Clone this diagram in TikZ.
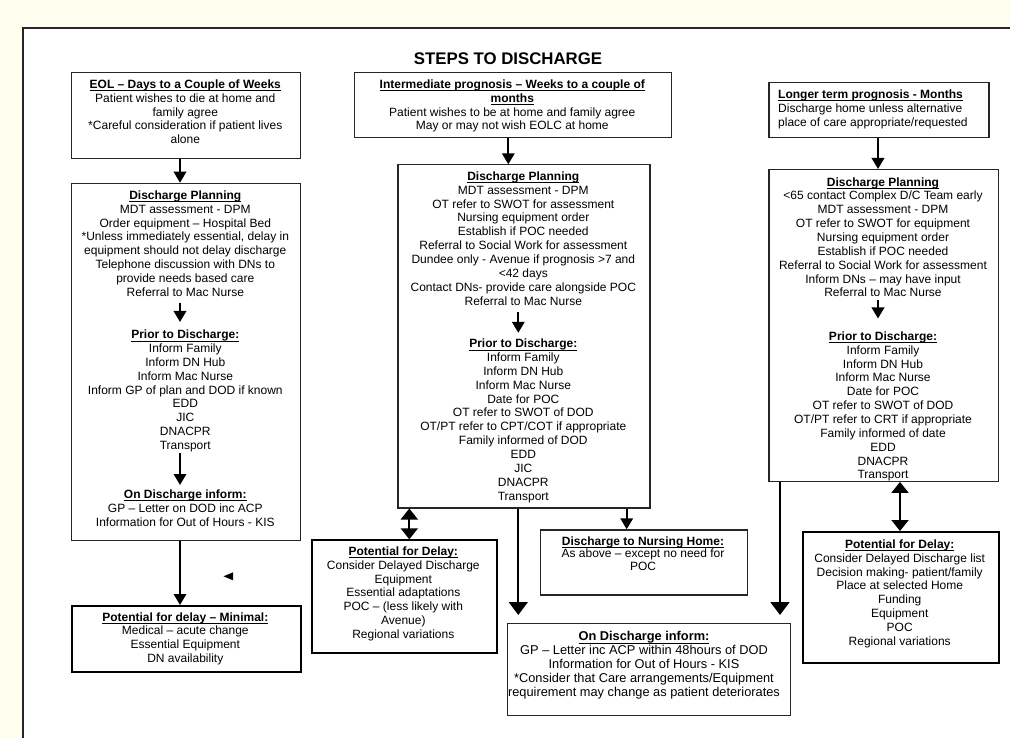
\documentclass[tikz,border=0pt]{standalone}
\usepackage{fontspec}
\setmainfont{Liberation Sans}
\usetikzlibrary{arrows.meta}
\newsavebox{\hdrbox}
\newcommand{\hdr}[1]{\sbox{\hdrbox}{\textbf{#1}}\rlap{\rule[-2.9pt]{\wd\hdrbox}{1pt}}\usebox{\hdrbox}}
\definecolor{cream}{RGB}{255,253,238}
\begin{document}
\begin{tikzpicture}[x=1pt,y=-1pt,
 box/.style={draw=black!85, line width=1.2pt, inner sep=0pt, anchor=north west, fill=white},
 dbox/.style={box, draw=black, line width=2pt},
 txt/.style={font=\fontsize{12}{13.85}\selectfont, align=center, inner sep=0pt, anchor=north},
 txtb/.style={txt, font=\fontsize{12.8}{13.9}\selectfont},
 arr/.style={line width=1.9pt, -{Triangle[width=12.5pt,length=11pt]}},
 arrw/.style={line width=1.9pt, -{Triangle[width=19pt,length=13pt]}},
 darr/.style={line width=1.9pt, {Triangle[width=17pt,length=11pt]}-{Triangle[width=17pt,length=11pt]}},
]
\useasboundingbox (0,0) rectangle (1010,738);
\fill[cream] (0,0) rectangle (1010,738);
\fill[white] (22.7,28.3) rectangle (1012,740);
\draw[line width=1.6pt, black!85] (22.7,740) -- (22.7,28.3) -- (1012,28.3);

\node[font=\fontsize{16.8}{18}\selectfont\bfseries, inner sep=0pt] (title) at (508,59) {STEPS TO DISCHARGE};

% column A
\node[box, minimum width=229.3pt, minimum height=86.3pt] (A1) at (70.7,71.7) {};
\node[txt] (A1t) at (185.3,79.5) {\hdr{EOL – Days to a Couple of Weeks}\\Patient wishes to die at home and\\family agree\\{}*Careful consideration if patient lives\\alone};
\node[box, minimum width=229.3pt, minimum height=357.3pt] (A2) at (70.7,182.7) {};
\node[txt] (A2plan) at (185.3,190.5) {\hdr{Discharge Planning}\\MDT assessment - DPM\\Order equipment – Hospital Bed\\{}*Unless immediately essential, delay in\\equipment should not delay discharge\\Telephone discussion with DNs to\\provide needs based care\\Referral to Mac Nurse};
\node[txt] (A2prior) at (185.3,329.8) {\hdr{Prior to Discharge:}\\Inform Family\\Inform DN Hub\\Inform Mac Nurse\\Inform GP of plan and DOD if known\\EDD\\JIC\\DNACPR\\Transport};
\node[txt] (A2on) at (185.3,489.5) {\hdr{On Discharge inform:}\\GP – Letter on DOD inc ACP\\Information for Out of Hours - KIS};
\node[dbox, minimum width=229.3pt, minimum height=66pt] (A3) at (70.7,605) {};
\node[txt] (A3t) at (185.3,612.2) {\hdr{Potential for delay – Minimal:}\\Medical – acute change\\Essential Equipment\\DN availability};

\coordinate (cA) at (180,0);
\draw[arr] (A1.south -| cA) -- (A2.north -| cA);
\draw[arr, shorten <=6pt, shorten >=7.8pt] (A2plan.south -| cA) -- (A2prior.north -| cA);
\draw[arr, shorten <=1.2pt, shorten >=4.5pt] (A2prior.south -| cA) -- (A2on.north -| cA);
\draw[arr] (A2.south -| cA) -- (A3.north -| cA);
\fill[black] (223.5,576.3) -- (233,572.3) -- (233,580.3) -- cycle;

% column B
\node[box, minimum width=316.7pt, minimum height=65pt] (B1) at (354,71.7) {};
\node[txt] (B1t) at (512.3,79.5) {\hdr{Intermediate prognosis – Weeks to a couple of}\\\hdr{months}\\Patient wishes to be at home and family agree\\May or may not wish EOLC at home};
\node[box, minimum width=252pt, minimum height=343pt] (B2) at (397.3,164.3) {};
\node[txt] (B2plan) at (523.3,171.5) {\hdr{Discharge Planning}\\MDT assessment - DPM\\OT refer to SWOT for assessment\\Nursing equipment order\\Establish if POC needed\\Referral to Social Work for assessment\\Dundee only - Avenue if prognosis >7 and\\<42 days\\Contact DNs- provide care alongside POC\\Referral to Mac Nurse};
\node[txt] (B2prior) at (523.3,338.8) {\hdr{Prior to Discharge:}\\Inform Family\\Inform DN Hub\\Inform Mac Nurse\\Date for POC\\OT refer to SWOT of DOD\\OT/PT refer to CPT/COT if appropriate\\Family informed of DOD\\EDD\\JIC\\DNACPR\\Transport};
\node[dbox, minimum width=185.3pt, minimum height=112.4pt] (B3) at (310.7,539.3) {};
\node[txt] (B3t) at (403.3,546.5) {\hdr{Potential for Delay:}\\Consider Delayed Discharge\\Equipment\\Essential adaptations\\POC – (less likely with\\Avenue)\\Regional variations};
\node[box, minimum width=207.4pt, minimum height=65pt] (B4) at (539.7,529.3) {};
\node[txt, font=\fontsize{12}{12.6}\selectfont] (B4t) at (643,536.3) {\hdr{Discharge to Nursing Home:}\\As above – except no need for\\POC};
\node[box, minimum width=283.3pt, minimum height=92.3pt] (B5) at (506.7,622.7) {};
\node[txtb] (B5t) at (644,631.3) {\hdr{On Discharge inform:}\\GP – Letter inc ACP within 48hours of DOD\\Information for Out of Hours - KIS\\{}*Consider that Care arrangements/Equipment\\requirement may change as patient deteriorates};

\coordinate (cB1) at (508.3,0);
\coordinate (cB2) at (518.3,0);
\coordinate (cB3) at (409.3,0);
\coordinate (cB4) at (626.7,0);
\draw[arr] (B1.south -| cB1) -- (B2.north -| cB1);
\draw[arr, shorten <=6.7pt, shorten >=6pt] (B2plan.south -| cB2) -- (B2prior.north -| cB2);
\draw[darr] (B2.south -| cB3) -- (B3.north -| cB3);
\draw[arr] (B2.south -| cB4) -- (B4.north -| cB4);
\draw[arrw, shorten >=7.7pt] (B2.south -| cB2) -- (B5.north -| cB2);

% column C
\node[box, minimum width=220pt, minimum height=55pt] (C1) at (768.3,82.3) {};
\node[txt, align=left, anchor=north west] (C1t) at (778,89.5) {\hdr{Longer term prognosis - Months}\\Discharge home unless alternative\\place of care appropriate/requested};
\node[box, minimum width=229.4pt, minimum height=311.7pt] (C2) at (768.3,169) {};
\node[txt] (C2plan) at (883,177.2) {\hdr{Discharge Planning}\\<65 contact Complex D/C Team early\\MDT assessment - DPM\\OT refer to SWOT for equipment\\Nursing equipment order\\Establish if POC needed\\Referral to Social Work for assessment\\Inform DNs – may have input\\Referral to Mac Nurse};
\node[txt] (C2prior) at (883,331.5) {\hdr{Prior to Discharge:}\\Inform Family\\Inform DN Hub\\Inform Mac Nurse\\Date for POC\\OT refer to SWOT of DOD\\OT/PT refer to CRT if appropriate\\Family informed of date\\EDD\\DNACPR\\Transport};
\node[dbox, minimum width=196pt, minimum height=130.7pt] (C3) at (801.7,531) {};
\node[txt] (C3t) at (899.7,539.5) {\hdr{Potential for Delay:}\\Consider Delayed Discharge list\\Decision making- patient/family\\Place at selected Home\\Funding\\Equipment\\POC\\Regional variations};

\coordinate (cC) at (878,0);
\coordinate (cC3) at (900,0);
\coordinate (cC5) at (780,0);
\draw[arr] (C1.south -| cC) -- (C2.north -| cC);
\draw[arr, shorten <=2.4pt, shorten >=13pt] (C2plan.south -| cC) -- (C2prior.north -| cC);
\draw[darr] (C2.south -| cC3) -- (C3.north -| cC3);
\draw[arrw, shorten >=7.7pt] (C2.south -| cC5) -- (B5.north -| cC5);
\end{tikzpicture}
\end{document}
